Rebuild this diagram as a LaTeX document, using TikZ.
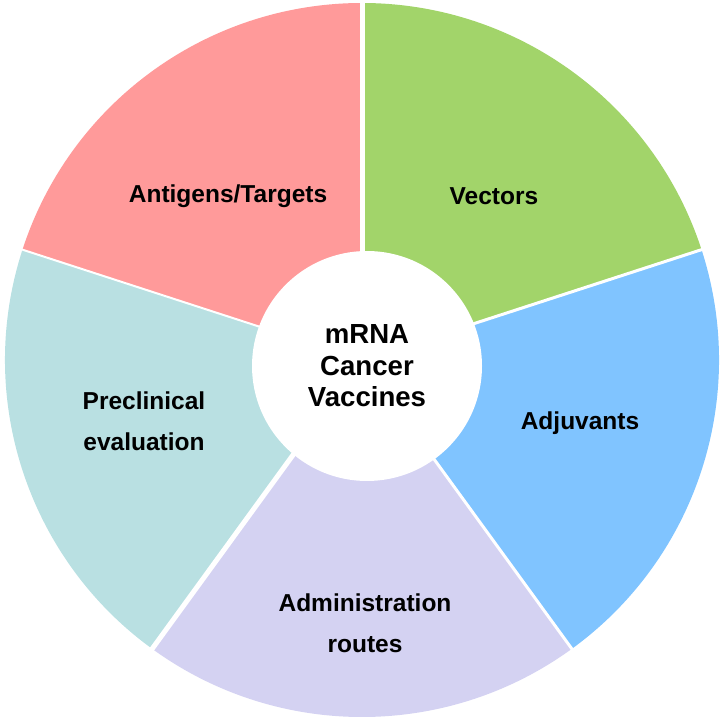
\documentclass[tikz,border=0pt]{standalone}
\usepackage{fontspec}
\setmainfont{Liberation Sans}
\definecolor{cpink}{HTML}{FF9A9A}
\definecolor{cgreen}{HTML}{A2D46A}
\definecolor{cblue}{HTML}{80C4FF}
\definecolor{clav}{HTML}{D4D2F2}
\definecolor{cteal}{HTML}{B9E0E2}
\tikzset{
  lab/.style={font=\bfseries\fontsize{24.5}{41}\selectfont, align=center, text=black, inner sep=0pt},
  ctr/.style={font=\bfseries\fontsize{27.6}{31.5}\selectfont, align=center, text=black, inner sep=0pt},
  gap/.style={white, line width=#1}
}
\begin{document}
\begin{tikzpicture}[x=1pt,y=1pt]
\useasboundingbox (0,0) rectangle (725,723);
\coordinate (O) at (362,363);
% sectors
\fill[cpink]  (O) -- ++(90:357pt)   arc[start angle=90,  end angle=162, radius=357pt] -- cycle;
\fill[cteal]  (O) -- ++(162:357pt)  arc[start angle=162, end angle=234, radius=357pt] -- cycle;
\fill[clav]   (O) -- ++(234:357pt)  arc[start angle=234, end angle=306, radius=357pt] -- cycle;
\fill[cblue]  (O) -- ++(306:357pt)  arc[start angle=306, end angle=378, radius=357pt] -- cycle;
\fill[cgreen] (O) -- ++(18:357pt)   arc[start angle=18,  end angle=90,  radius=357pt] -- cycle;
% separating gaps
\draw[gap=5pt]   (O) -- ++(90:362pt);
\draw[gap=3pt]   (O) -- ++(18:362pt);
\draw[gap=3pt]   (O) -- ++(306:362pt);
\draw[gap=5pt]   (O) -- ++(234:362pt);
\draw[gap=2pt]   (O) -- ++(162:362pt);
% centre
\fill[white] (367,357) circle[radius=115pt];
\node[ctr] (core) at (367,357) {mRNA\\Cancer\\Vaccines};
% labels
\node[lab] (ant) at (228,527) {Antigens/Targets};
\node[lab] (vec) at (494,527) {Vectors};
\node[lab] (adj) at (580,300) {Adjuvants};
\node[lab] (adm) at (365,100) {Administration\\routes};
\node[lab] (pre) at (144,302) {Preclinical\\evaluation};
\end{tikzpicture}
\end{document}
